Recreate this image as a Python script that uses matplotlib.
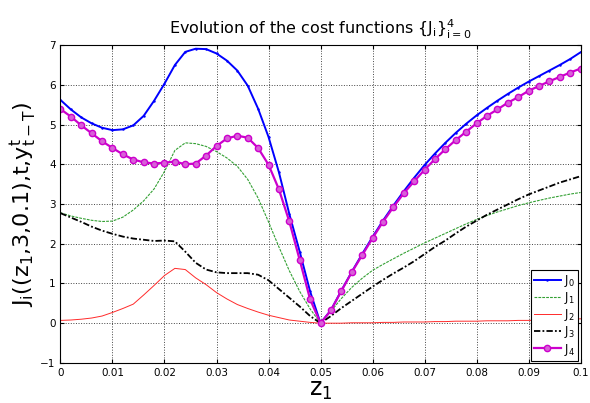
import numpy as np
import matplotlib
matplotlib.use("Agg")
import matplotlib.pyplot as plt

plt.rcParams['font.family'] = ['DejaVu Sans']
plt.rcParams['mathtext.default'] = 'regular'

z = np.round(np.arange(51) * 0.002, 3)

J0 = [5.62, 5.38, 5.18, 5.03, 4.92, 4.86, 4.88, 4.98, 5.22, 5.60,
      6.03, 6.50, 6.83, 6.91, 6.90, 6.79, 6.61, 6.36, 5.98, 5.40,
      4.69, 3.80, 2.75, 1.80, 0.80, 0.00, 0.33, 0.82, 1.29, 1.74,
      2.17, 2.58, 2.96, 3.32, 3.66, 3.98, 4.27, 4.54, 4.79, 5.02,
      5.23, 5.42, 5.60, 5.77, 5.93, 6.08, 6.22, 6.36, 6.50, 6.65, 6.82]

J1 = [2.78, 2.70, 2.64, 2.59, 2.56, 2.57, 2.67, 2.85, 3.08, 3.38,
      3.82, 4.35, 4.54, 4.52, 4.45, 4.32, 4.16, 3.95, 3.62, 3.15,
      2.55, 1.92, 1.32, 0.80, 0.36, 0.00, 0.30, 0.62, 0.90, 1.13,
      1.33, 1.48, 1.62, 1.76, 1.89, 2.02, 2.14, 2.26, 2.38, 2.50,
      2.61, 2.71, 2.80, 2.88, 2.96, 3.03, 3.09, 3.15, 3.20, 3.25, 3.29]

J2 = [0.07, 0.08, 0.10, 0.13, 0.18, 0.27, 0.37, 0.48, 0.71, 0.95,
      1.20, 1.38, 1.35, 1.14, 0.97, 0.77, 0.61, 0.47, 0.37, 0.28,
      0.20, 0.14, 0.08, 0.05, 0.02, 0.00, 0.00, 0.00, 0.01, 0.01,
      0.01, 0.02, 0.02, 0.03, 0.03, 0.03, 0.04, 0.04, 0.05, 0.05,
      0.05, 0.06, 0.06, 0.06, 0.07, 0.07, 0.08, 0.09, 0.09, 0.10, 0.11]

J3 = [2.77, 2.66, 2.55, 2.43, 2.33, 2.25, 2.18, 2.13, 2.10, 2.07,
      2.08, 2.06, 1.80, 1.52, 1.35, 1.28, 1.26, 1.26, 1.26, 1.22,
      1.08, 0.86, 0.64, 0.42, 0.18, 0.00, 0.18, 0.38, 0.56, 0.74,
      0.92, 1.09, 1.25, 1.40, 1.56, 1.74, 1.92, 2.08, 2.26, 2.43,
      2.58, 2.73, 2.86, 2.99, 3.12, 3.24, 3.34, 3.44, 3.54, 3.62, 3.70]

J4 = [5.39, 5.20, 4.98, 4.78, 4.58, 4.41, 4.25, 4.12, 4.05, 4.02,
      4.04, 4.07, 4.00, 4.02, 4.22, 4.46, 4.65, 4.72, 4.67, 4.41,
      3.99, 3.37, 2.56, 1.59, 0.60, 0.00, 0.32, 0.81, 1.28, 1.71,
      2.14, 2.55, 2.92, 3.27, 3.57, 3.86, 4.13, 4.38, 4.61, 4.82,
      5.03, 5.22, 5.38, 5.55, 5.69, 5.85, 5.97, 6.09, 6.20, 6.31, 6.41]

labels = ['$J_0$', '$J_1$', '$J_2$', '$J_3$', '$J_4$']
xticks = [0, 0.01, 0.02, 0.03, 0.04, 0.05, 0.06, 0.07, 0.08, 0.09, 0.1]
xticklabels = ['0', '0.01', '0.02', '0.03', '0.04', '0.05', '0.06', '0.07', '0.08', '0.09', '0.1']
yticks = [-1, 0, 1, 2, 3, 4, 5, 6, 7]

fig = plt.figure(figsize=(5.9, 4.03), dpi=100)
ax = fig.add_axes([0.1025, 0.0995, 0.8815, 0.7885])

ax.plot(z, J0, color='#0000ff', lw=1.4, marker='.', ms=1.5, label=labels[0])
ax.plot(z, J1, color='#33a033', lw=0.8, ls='--', dashes=(2.5, 1.0), label=labels[1])
ax.plot(z, J2, color='#ff2a2a', lw=0.7, label=labels[2])
ax.plot(z, J3, color='black', lw=1.3, ls='-.', dashes=(3.5, 1.2, 1.0, 1.2), label=labels[3])
ax.plot(z, J4, color='#cc00cc', lw=1.6, marker='o', ms=4.5,
        mfc='#d860d8', mec='#cc00cc', mew=1.0, label=labels[4])

ax.set_xlim(0, 0.1)
ax.set_ylim(-1, 7)
ax.set_xticks(xticks)
ax.set_xticklabels(xticklabels)
ax.set_yticks(yticks)
ax.tick_params(direction='in', labelsize=7.5, length=3, top=True, right=True)
ax.grid(True, color='#444444', ls=':', lw=0.7)
for s in ax.spines.values():
    s.set_linewidth(0.8)

ax.set_title(r'Evolution of the cost functions $\{J_i\}_{i=0}^4$', fontsize=11.5, pad=8)
ax.set_xlabel('$z_1$', fontsize=17, labelpad=0)
ax.set_ylabel('J$_i$((z$_1$,3,0.1),t,y$_{t-T}^t$)', fontsize=16, labelpad=1)

leg = ax.legend(loc='lower right', fontsize=8.5, handlelength=2.3, handletextpad=0.3,
                labelspacing=0.1, borderpad=0.25, fancybox=False, framealpha=1,
                edgecolor='black', borderaxespad=0.2)
leg.get_frame().set_linewidth(0.8)

fig.savefig('out.png', dpi=100)
